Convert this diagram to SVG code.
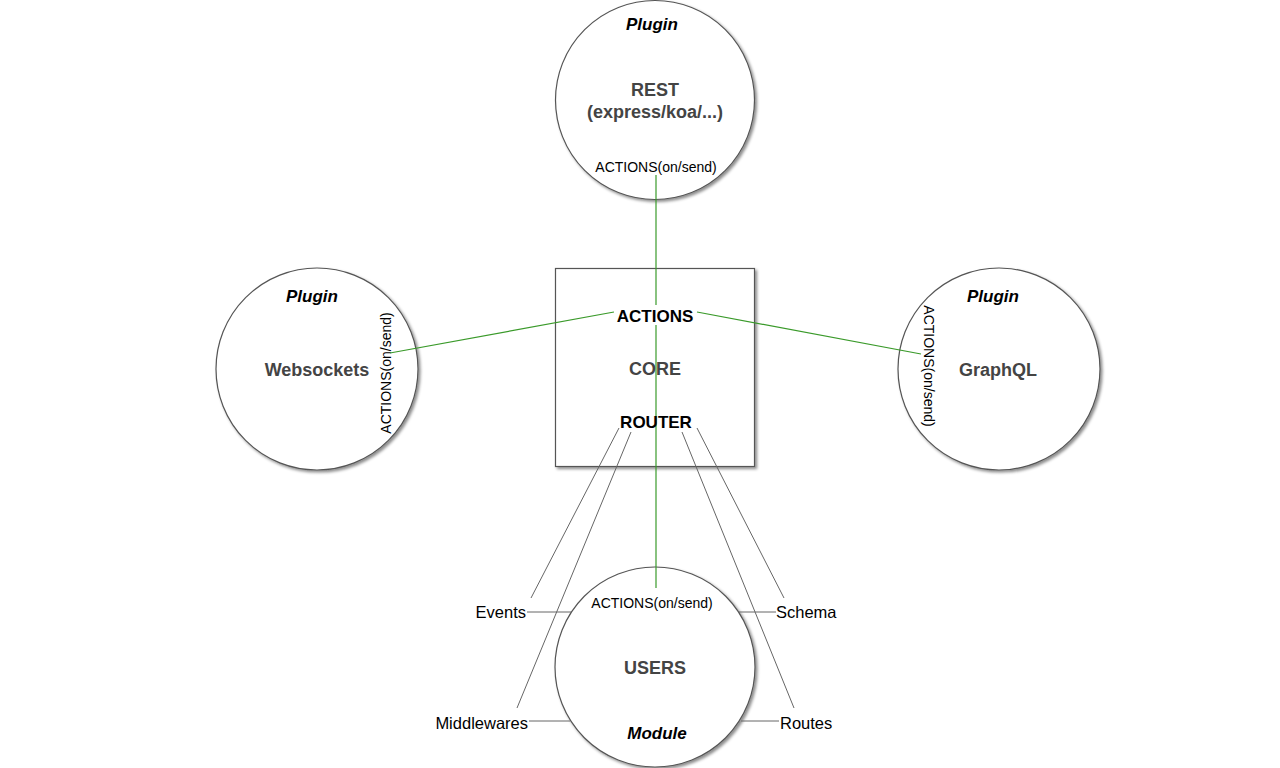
<svg xmlns="http://www.w3.org/2000/svg" width="1280" height="768" viewBox="0 0 1280 768">
<style>
text{font-family:"Liberation Sans",Arial,sans-serif;text-anchor:middle}
.shape{fill:#fff;stroke:#555;stroke-width:1.2;filter:url(#sh)}
.title{font-size:18px;font-weight:bold;fill:#444}
.tag{font-size:17px;font-weight:bold;font-style:italic;fill:#000}
.small{font-size:14px;fill:#000}
.lbl{font-size:16.5px;fill:#000}
.key{font-size:17px;font-weight:bold;fill:#000}
.green{stroke:#3a9a2a;stroke-width:1.2;fill:none}
.gray{stroke:#666;stroke-width:1;fill:none}
</style>
<defs>
<filter id="sh" x="-10%" y="-10%" width="125%" height="125%">
<feDropShadow dx="2" dy="2" stdDeviation="1.8" flood-color="#000" flood-opacity="0.45"/>
</filter>
</defs>
<rect width="1280" height="768" fill="#fff"/>
<g id="rest">
<circle class="shape" cx="655" cy="100" r="99.5"/>
<text class="tag" x="652" y="30">Plugin</text>
<text class="title" x="655" y="96">REST</text>
<text class="title" x="655" y="118">(express/koa/...)</text>
<text class="small" x="656" y="172">ACTIONS(on/send)</text>
</g>
<g id="websockets">
<circle class="shape" cx="317" cy="369" r="101"/>
<text class="tag" x="312" y="302">Plugin</text>
<text class="title" x="317" y="376">Websockets</text>
<text class="small" transform="translate(391,373) rotate(-90)">ACTIONS(on/send)</text>
</g>
<g id="graphql">
<circle class="shape" cx="999" cy="369" r="101"/>
<text class="tag" x="993" y="302">Plugin</text>
<text class="title" x="998" y="376">GraphQL</text>
<text class="small" transform="translate(924,366) rotate(90)">ACTIONS(on/send)</text>
</g>
<g id="core">
<rect class="shape" x="555.5" y="268.5" width="199" height="198"/>
<text class="title" x="655" y="375">CORE</text>
</g>
<g id="users">
<circle class="shape" cx="655" cy="667" r="100"/>
<text class="small" x="652" y="608">ACTIONS(on/send)</text>
<text class="title" x="655" y="674">USERS</text>
<text class="tag" x="657" y="739">Module</text>
</g>
<g id="connectors">
<line class="green" x1="656" y1="175" x2="656" y2="588"/>
<line class="green" x1="614" y1="312" x2="390" y2="353"/>
<line class="green" x1="697" y1="312" x2="921" y2="354"/>
<line class="gray" x1="619" y1="428" x2="531" y2="598"/>
<line class="gray" x1="631" y1="432" x2="517" y2="708"/>
<line class="gray" x1="682" y1="432" x2="794" y2="708"/>
<line class="gray" x1="697" y1="428" x2="784" y2="598"/>
<line class="gray" x1="527" y1="612" x2="571" y2="612"/>
<line class="gray" x1="738" y1="612" x2="776" y2="612"/>
<line class="gray" x1="529" y1="721" x2="570" y2="721"/>
<line class="gray" x1="741" y1="721" x2="779" y2="721"/>
</g>
<g id="labels">
<rect x="614" y="305" width="82" height="20" fill="#fff"/>
<text class="key" x="655" y="322">ACTIONS</text>
<text class="key" x="656" y="428">ROUTER</text>
<text class="lbl" x="526" y="618" style="text-anchor:end">Events</text>
<text class="lbl" x="776" y="618" style="text-anchor:start">Schema</text>
<text class="lbl" x="528" y="729" style="text-anchor:end">Middlewares</text>
<text class="lbl" x="780" y="729" style="text-anchor:start">Routes</text>
</g>
</svg>
